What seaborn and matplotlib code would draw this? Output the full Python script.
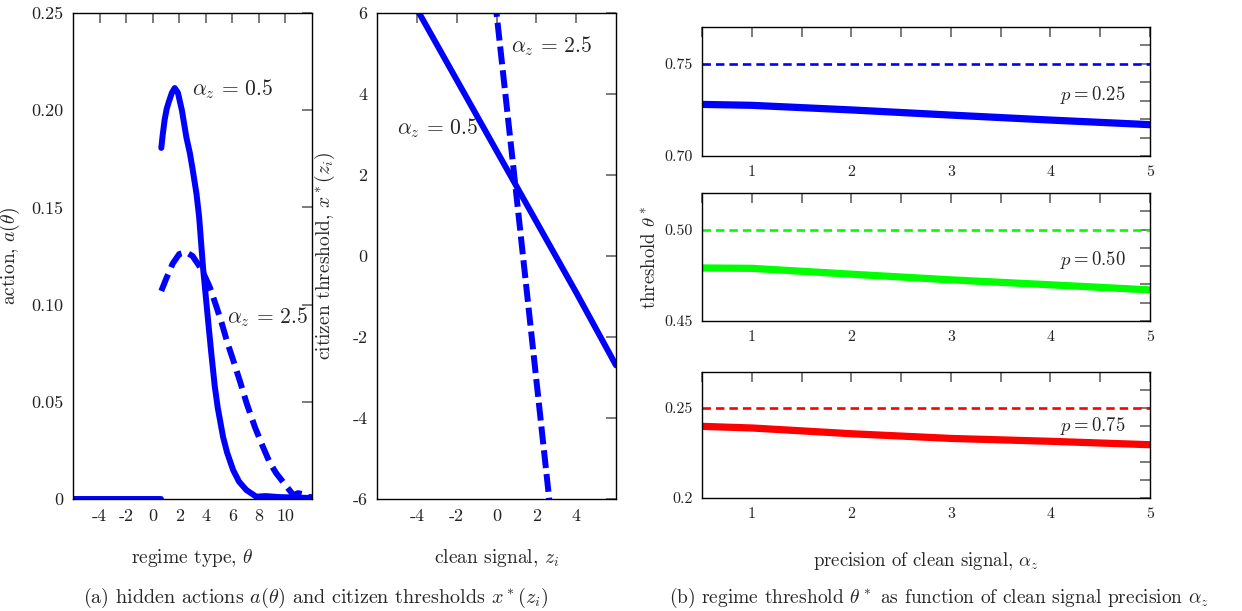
import matplotlib
matplotlib.use("Agg")
import matplotlib.pyplot as plt
import seaborn as sns
from matplotlib.ticker import FixedLocator

# ---------------- data ----------------
# panel (a-left): hidden actions a(theta)
theta_zero = [-6.0, 0.65]
a_zero = [0.0, 0.0]
theta_solid = [0.65, 0.75, 0.9, 1.05, 1.2, 1.45, 1.66, 1.9, 2.2, 2.54, 2.8, 3.0, 3.3, 3.5, 3.8, 4.17, 4.4, 4.68, 4.9, 5.3, 5.6, 6.06, 6.5, 7.06, 7.8, 8.5, 9.5, 10.5, 12.0]
a_solid = [0.1806, 0.187, 0.195, 0.2005, 0.204, 0.209, 0.2114, 0.209, 0.200, 0.186, 0.178, 0.170, 0.157, 0.145, 0.1185, 0.0921, 0.076, 0.0578, 0.047, 0.032, 0.024, 0.0149, 0.009, 0.0046, 0.0012, 0.0015, 0.001, 0.0008, 0.0005]
theta_dash = [0.65, 1.0, 1.5, 2.0, 2.5, 3.0, 3.5, 3.9, 4.3, 4.75, 5.2, 5.6, 6.06, 6.6, 7.07, 7.7, 8.3, 8.8, 9.3, 10.1, 10.6, 10.95, 11.3, 11.7, 12.0]
a_dash = [0.107, 0.113, 0.121, 0.126, 0.127, 0.125, 0.120, 0.115, 0.109, 0.100, 0.0905, 0.081, 0.0715, 0.060, 0.0494, 0.037, 0.0269, 0.019, 0.0133, 0.0063, 0.002, 0.003, 0.0025, 0.001, 0.001]

# panel (a-right): citizen thresholds x*(z)
z_solid = [-6, -4, -2, 0, 2, 4, 6]
x_solid = [7.85, 6.1, 4.35, 2.6, 0.85, -0.9, -2.7]
z_dash = [-0.2, 1.0, 2.8]
x_dash = [6.9, 1.5, -6.7]

# panel (b): regime thresholds
alpha = [0.5, 1, 2, 3, 4, 5]
theta_p25 = [0.728, 0.7275, 0.725, 0.7222, 0.7195, 0.717]
theta_p50 = [0.479, 0.4788, 0.4756, 0.4725, 0.4698, 0.467]
theta_p75 = [0.2398, 0.2389, 0.2357, 0.2331, 0.2315, 0.2296]
bench = [0.75, 0.50, 0.25]
p_labels = ["$p = 0.25$", "$p = 0.50$", "$p = 0.75$"]
colors = ["#0000ff", "#00ff00", "#ff0000"]

# ---------------- style ----------------
sns.set_style("white")
plt.rcParams["font.family"] = ["cmr10", "DejaVu Serif"]
plt.rcParams["mathtext.fontset"] = "cm"
plt.rcParams["axes.unicode_minus"] = False
plt.rcParams["axes.formatter.use_mathtext"] = True

W, H = 1242, 611
fig = plt.figure(figsize=(W / 100, H / 100), dpi=100)

def px_axes(l, t, r, b):
    return fig.add_axes([l / W, 1 - b / H, (r - l) / W, (b - t) / H])

def style_ax(ax, labelsize):
    for s in ax.spines.values():
        s.set_color("black")
        s.set_linewidth(1.0)
        s.set_visible(True)
    ax.tick_params(which="both", direction="in", length=7.5, width=1.4, color="#7a7a7a",
                   top=True, right=True, labelsize=labelsize, pad=7, labelcolor="#222222")

BLUE = "#0000ff"

# ---- panel 1 ----
ax1 = px_axes(73, 13, 312, 499)
sns.lineplot(x=theta_zero, y=a_zero, ax=ax1, color=BLUE, lw=4.3, estimator=None, sort=False)
sns.lineplot(x=theta_solid, y=a_solid, ax=ax1, color=BLUE, lw=4.3, estimator=None, sort=False)
sns.lineplot(x=theta_dash, y=a_dash, ax=ax1, color=BLUE, lw=4.3, estimator=None, sort=False)
ax1.lines[-1].set_dashes([3, 1.3])
ax1.set_xlim(-6, 12)
ax1.set_ylim(0, 0.25)
ax1.set_xticks([-4, -2, 0, 2, 4, 6, 8, 10])
ax1.set_xticklabels(["-4", "-2", "0", "2", "4", "6", "8", "10"])
ax1.set_yticks([0, 0.05, 0.10, 0.15, 0.20, 0.25])
ax1.set_yticklabels(["0", "0.05", "0.10", "0.15", "0.20", "0.25"])
style_ax(ax1, 13)
ax1.set_xlabel(r"regime type, $\theta$", fontsize=14)
ax1.xaxis.set_label_coords(0.5, -0.099)
ax1.set_ylabel(r"action, $a(\theta)$", fontsize=14)
ax1.yaxis.set_label_coords(-0.213, 0.5)
ax1.text(3.0, 0.211, r"$\alpha_z\,=\,0.5$", fontsize=15.5, va="center", ha="left")
ax1.text(5.6, 0.0936, r"$\alpha_z\,=\,2.5$", fontsize=15.5, va="center", ha="left")

# ---- panel 2 ----
ax2 = px_axes(377, 13, 616, 499)
sns.lineplot(x=z_solid, y=x_solid, ax=ax2, color=BLUE, lw=4.3, estimator=None, sort=False)
sns.lineplot(x=z_dash, y=x_dash, ax=ax2, color=BLUE, lw=4.3, estimator=None, sort=False)
ax2.lines[-1].set_dashes([3, 1.0])
ax2.set_xlim(-6, 6)
ax2.set_ylim(-6, 6)
ax2.set_xticks([-4, -2, 0, 2, 4])
ax2.set_xticklabels(["-4", "-2", "0", "2", "4"])
ax2.set_yticks([-6, -4, -2, 0, 2, 4, 6])
ax2.set_yticklabels(["-6", "-4", "-2", "0", "2", "4", "6"])
style_ax(ax2, 13)
ax2.set_xlabel(r"clean signal, $z_i$", fontsize=14)
ax2.xaxis.set_label_coords(0.5, -0.099)
ax2.set_ylabel(r"citizen threshold, $x^*(z_i)$", fontsize=14)
ax2.yaxis.set_label_coords(-0.167, 0.5)
ax2.text(0.75, 5.19, r"$\alpha_z\,=\,2.5$", fontsize=15.5, va="center", ha="left")
ax2.text(-5.0, 3.16, r"$\alpha_z\,=\,0.5$", fontsize=15.5, va="center", ha="left")

# ---- panel 3 ----
boxes = [(702, 27, 1150, 156), (702, 193, 1150, 321), (702, 372, 1150, 498)]
series = [theta_p25, theta_p50, theta_p75]
ylims = [(0.70, 0.77), (0.45, 0.52), (0.20, 0.27)]
ylabs = [["0.70", "0.75"], ["0.45", "0.50"], ["0.2", "0.25"]]
label_y = [0.733, 0.4835, 0.2398]
axes3 = []
for i in range(3):
    ax = px_axes(*boxes[i])
    axes3.append(ax)
    sns.lineplot(x=alpha, y=series[i], ax=ax, color=colors[i], lw=5.2, estimator=None, sort=False)
    sns.lineplot(x=[alpha[0], alpha[-1]], y=[bench[i], bench[i]], ax=ax, color=colors[i], lw=1.9,
                 estimator=None, sort=False)
    ax.lines[-1].set_dashes([3.2, 1.9])
    ax.set_xlim(0.5, 5)
    lo, hi = ylims[i]
    ax.set_ylim(lo, hi)
    ax.set_xticks([1, 2, 3, 4, 5])
    ax.set_xticklabels(["1", "2", "3", "4", "5"])
    ax.xaxis.set_minor_locator(FixedLocator([0.5, 1.5, 2.5, 3.5, 4.5]))
    ax.set_yticks([lo, lo + 0.05])
    ax.set_yticklabels(ylabs[i])
    ax.yaxis.set_minor_locator(FixedLocator([lo + 0.01 * k for k in range(1, 7) if k != 5]))
    style_ax(ax, 11.5)
    ax.text(4.1, label_y[i], p_labels[i], fontsize=13.5, va="center", ha="left")

axes3[2].set_xlabel(r"precision of clean signal, $\alpha_z$", fontsize=13.5)
axes3[2].xaxis.set_label_coords(0.5, -0.41)
fig.text(650 / W, 1 - 257 / H, r"threshold $\theta^*$", rotation=90, fontsize=13.5,
         ha="center", va="center")

# captions
fig.text(316 / W, 1 - 598 / H, r"(a) hidden actions $a(\theta)$ and citizen thresholds $x^*(z_i)$",
         fontsize=14.5, ha="center", va="center")
fig.text(939 / W, 1 - 598 / H, r"(b) regime threshold $\theta^*$ as function of clean signal precision $\alpha_z$",
         fontsize=14, ha="center", va="center")

fig.savefig("out.png", dpi=100)
